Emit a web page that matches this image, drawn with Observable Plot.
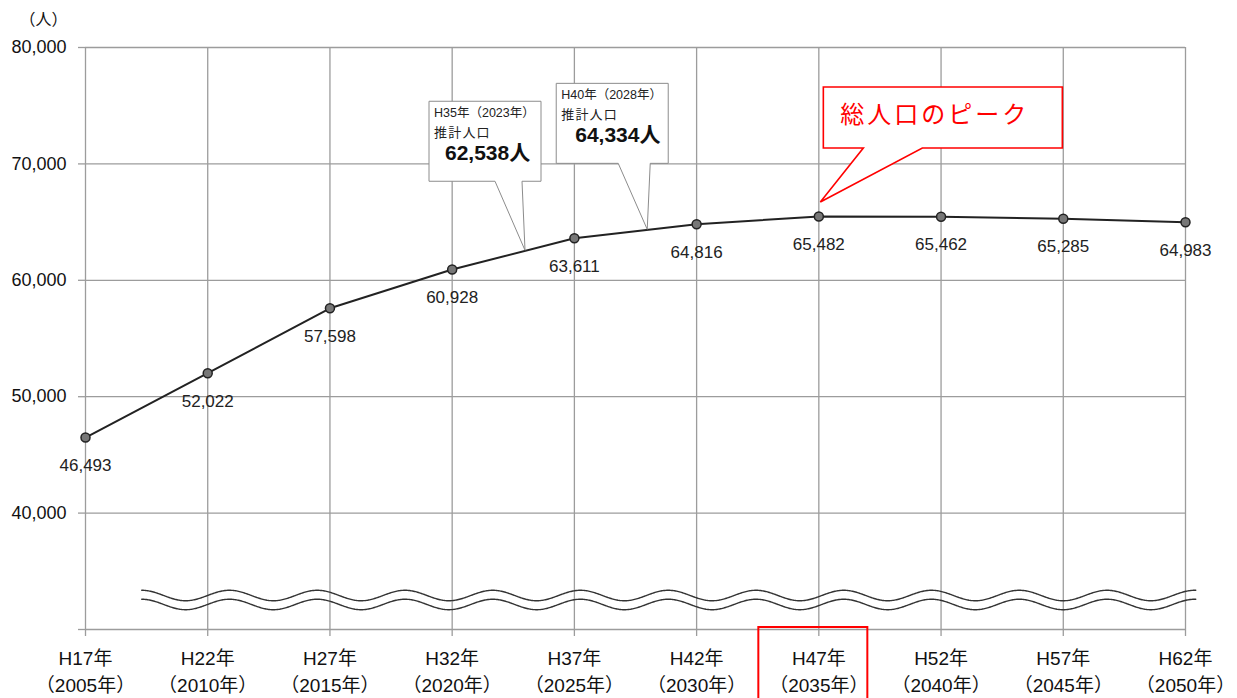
<!DOCTYPE html>
<html>
<head>
<meta charset="utf-8">
<script src="https://cdn.jsdelivr.net/npm/d3@7"></script>
<script src="https://cdn.jsdelivr.net/npm/@observablehq/plot@0.6"></script>
<style>
  body { margin: 0; background: #fff; }
</style>
</head>
<body>
<div id="chart"></div>
<script>
// Census / projection years and their Heisei-era names
const years = [2005, 2010, 2015, 2020, 2025, 2030, 2035, 2040, 2045, 2050];
const eraLabels = ["H17年", "H22年", "H27年", "H32年", "H37年", "H42年", "H47年", "H52年", "H57年", "H62年"];
// Total population (persons)
const population = [46493, 52022, 57598, 60928, 63611, 64816, 65482, 65462, 65285, 64983];
// Value axis ticks (30,000 is the broken baseline and carries no label)
const yTicks = [30000, 40000, 50000, 60000, 70000, 80000];
// Intermediate estimates shown in callouts
const estimateYears = [2023, 2028];
const estimateEras = ["H35年（2023年）", "H40年（2028年）"];
const estimateValues = [62538, 64334];
const estimateCaption = "推計人口";
const peakNote = "総人口のピーク";
const unitLabel = "（人）";

const fmt = d3.format(",");
const rows = years.map((year, i) => ({ year, era: eraLabels[i], value: population[i] }));

// Wavy "axis break" marker drawn across the lower part of the frame
const breakStart = 2007.3, breakEnd = 2050.45, breakPeriod = 3.59, breakAmp = 450;
const breakCenters = [32920, 32150];
const breakLines = breakCenters.flatMap((c, k) =>
  d3.range(breakStart, breakEnd, 0.04).map(t => ({
    t, k, v: c + breakAmp * Math.cos(2 * Math.PI * (t - breakStart) / breakPeriod)
  }))
);

const gridColor = "#9c9c9c";
const fontFamily = "'Liberation Sans', 'Noto Sans CJK JP', sans-serif";

const chart = Plot.plot({
  width: 1237,
  height: 698,
  marginLeft: 85,
  marginRight: 52,
  marginTop: 47,
  marginBottom: 69,
  style: { fontFamily, fontSize: "18px", color: "#111", background: "#fff" },
  x: { domain: [2005, 2050] },
  y: { domain: [30000, 80000] },
  marks: [
    Plot.gridX(years, { stroke: gridColor, strokeOpacity: 1, strokeWidth: 1.3 }),
    Plot.gridY(yTicks.slice(1), { stroke: gridColor, strokeOpacity: 1, strokeWidth: 1.3 }),
    Plot.ruleY([30000], { stroke: gridColor, strokeWidth: 1.3 }),
    Plot.axisY({
      ticks: yTicks, tickSize: 7, tickPadding: 12, label: null,
      tickFormat: d => (d === 30000 ? "" : fmt(d)),
      stroke: gridColor, strokeWidth: 1.3, fontSize: 18
    }),
    Plot.axisX({
      ticks: years, tickSize: 7, label: null,
      tickFormat: () => "", stroke: gridColor, strokeWidth: 1.3
    }),
    // two-line category labels under the axis
    Plot.text(rows, {
      x: "year", frameAnchor: "bottom", dy: 40, lineAnchor: "middle",
      text: d => `${d.era}\n（${d.year}年）`,
      lineHeight: 1.45, fontSize: 19, fill: "#111"
    }),
    Plot.text([unitLabel], {
      frameAnchor: "top-left", dx: -66, dy: -28, textAnchor: "start", lineAnchor: "middle",
      fontSize: 16, fill: "#111"
    }),
    Plot.line(breakLines, { x: "t", y: "v", z: "k", stroke: "#333", strokeWidth: 1.4 }),
    Plot.line(rows, { x: "year", y: "value", stroke: "#222", strokeWidth: 2 }),
    Plot.dot(rows, { x: "year", y: "value", r: 4.5, fill: "#777", stroke: "#222", strokeWidth: 1.5 }),
    Plot.text(rows, {
      x: "year", y: "value", text: d => fmt(d.value), dy: 28,
      fontSize: 17, fill: "#222"
    })
  ]
});

document.getElementById("chart").appendChild(chart);

// Callout annotations placed with the chart's own scales
const sx = chart.scale("x"), sy = chart.scale("y");
const svg = d3.select(chart);
const notes = svg.append("g").attr("font-family", fontFamily).attr("text-anchor", "start");

function calloutPath(tx, ty, box, base) {
  const [l, r, t, b] = [tx + box[0], tx + box[1], ty + box[2], ty + box[3]];
  return `M${l},${t}H${r}V${b}H${tx + base[1]}L${tx},${ty}L${tx + base[0]},${b}H${l}Z`;
}

const estimateLayout = [
  { box: [-96, 16, -149, -69], base: [-30, -3], big: 16 },
  { box: [-91, 21, -146, -66], base: [-29, 3], big: 19 }
];

estimateYears.forEach((yr, i) => {
  const tx = sx.apply(yr), ty = sy.apply(estimateValues[i]);
  const L = estimateLayout[i];
  const left = tx + L.box[0], top = ty + L.box[2];
  notes.append("path")
    .attr("d", calloutPath(tx, ty, L.box, L.base))
    .attr("fill", "#fff").attr("stroke", "#8c8c8c").attr("stroke-width", 1);
  notes.append("text").attr("x", left + 5).attr("y", top + 12)
    .attr("dominant-baseline", "central").attr("font-size", 12.5).attr("fill", "#222")
    .text(estimateEras[i]);
  notes.append("text").attr("x", left + 5).attr("y", top + 31)
    .attr("dominant-baseline", "central").attr("font-size", 13).attr("letter-spacing", 1.2)
    .attr("fill", "#222").text(estimateCaption);
  notes.append("text").attr("x", left + L.big).attr("y", top + 51)
    .attr("dominant-baseline", "central").attr("font-size", 21).attr("font-weight", "bold")
    .attr("fill", "#111").text(`${fmt(estimateValues[i])}人`);
});

// Peak of the total population
const peakIndex = d3.maxIndex(population);
const px = sx.apply(years[peakIndex]) + 2, py = sy.apply(population[peakIndex]) - 14;
const peakBox = [3, 242, -115, -54];
notes.append("path")
  .attr("d", calloutPath(px, py, peakBox, [43, 102]))
  .attr("fill", "#fff").attr("stroke", "#f00").attr("stroke-width", 1.6);
notes.append("text").attr("x", px + peakBox[0] + 17).attr("y", py + peakBox[2] + 28)
  .attr("dominant-baseline", "central").attr("font-size", 24).attr("letter-spacing", 3)
  .attr("fill", "#f00").text(peakNote);

// Highlight frame around the peak year's axis label
notes.append("rect")
  .attr("x", sx.apply(years[peakIndex]) - 60).attr("y", sy.apply(30000) - 2)
  .attr("width", 109).attr("height", 80)
  .attr("fill", "none").attr("stroke", "#f00").attr("stroke-width", 2);
</script>
</body>
</html>
